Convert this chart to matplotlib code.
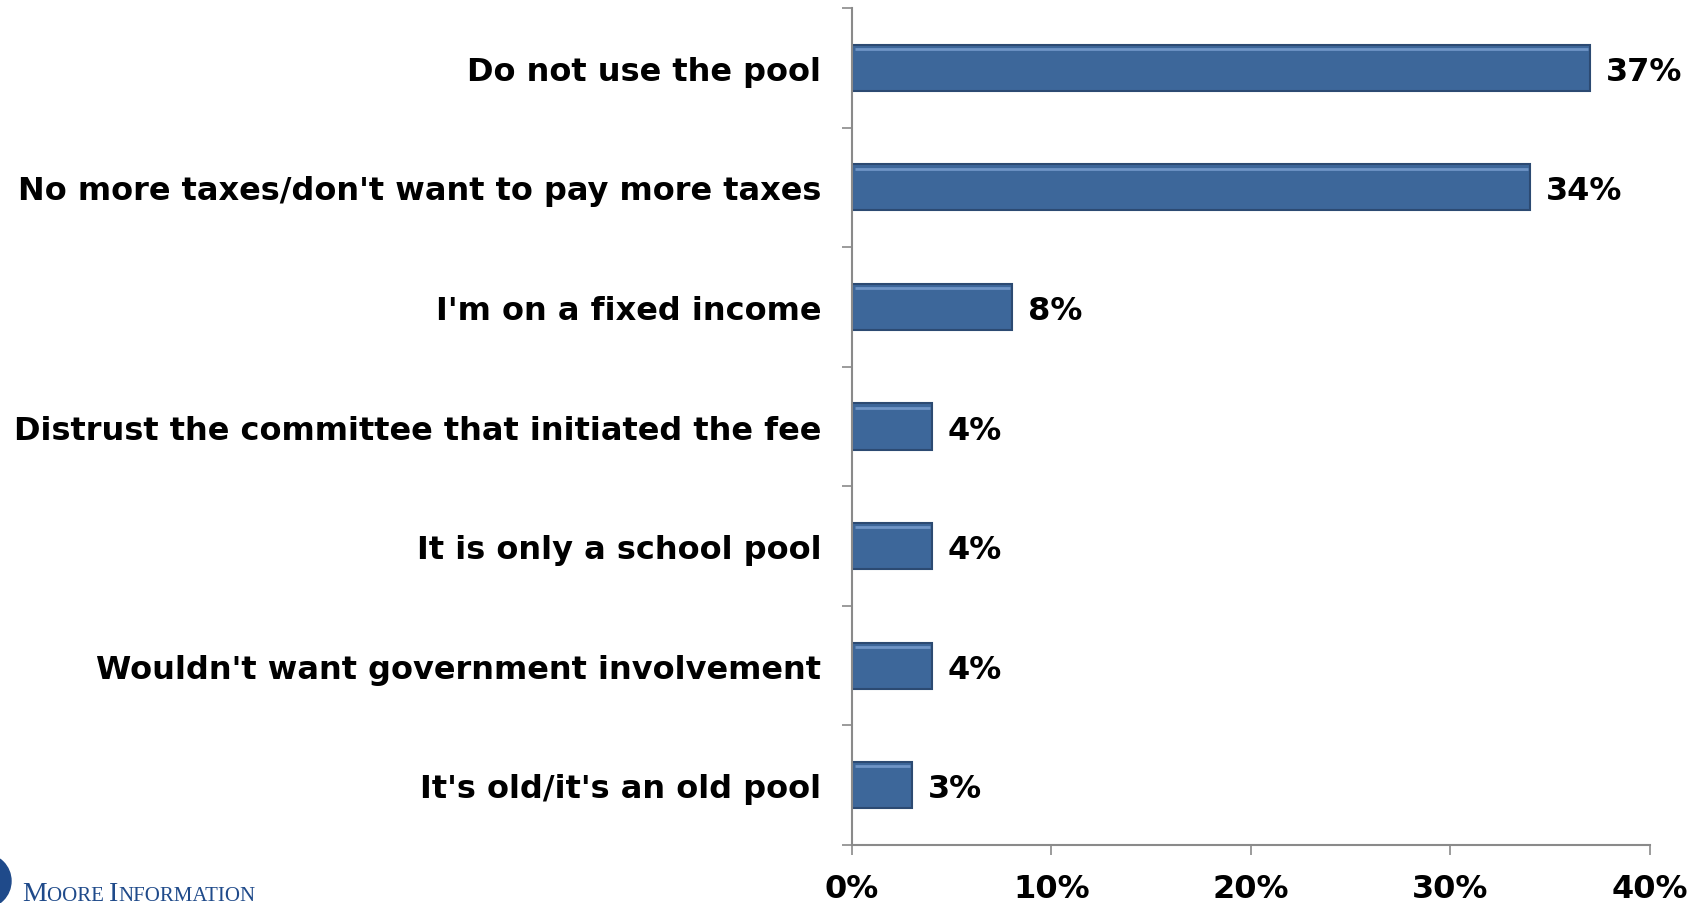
import matplotlib.pyplot as plt
from matplotlib.patches import Ellipse

categories = [
    "Do not use the pool",
    "No more taxes/don't want to pay more taxes",
    "I'm on a fixed income",
    "Distrust the committee that initiated the fee",
    "It is only a school pool",
    "Wouldn't want government involvement",
    "It's old/it's an old pool",
]
values = [37, 34, 8, 4, 4, 4, 3]
x_ticks = [0, 10, 20, 30, 40]
x_tick_labels = ['0%', '10%', '20%', '30%', '40%']

bar_color = '#3d679a'
edge_color = '#2c4a72'
axis_color = '#8a8a8a'
logo_color = '#1f4a8a'
fs = 23

fig = plt.figure(figsize=(17.07, 9.04), dpi=100)
ax = fig.add_axes([0.4991, 0.0642, 0.4675, 0.9258])

pos = list(range(len(categories)))
bars = ax.barh(pos, values, height=0.385, color=bar_color,
               edgecolor=edge_color, linewidth=1.5)
# light bevel along the top edge of each bar
for b in bars:
    ax.plot([b.get_x() + 0.15, b.get_x() + b.get_width() - 0.1],
            [b.get_y() + 0.035, b.get_y() + 0.035],
            color='#6f95c6', linewidth=2, solid_capstyle='butt')

for p, v in zip(pos, values):
    ax.text(v + 0.8, p, f'{v}%', va='center_baseline', ha='left',
            fontsize=fs, fontweight='bold', color='black')

ax.set_xlim(0, 40)
ax.set_ylim(len(categories) - 0.5, -0.5)
ax.set_xticks(x_ticks)
ax.set_xticklabels(x_tick_labels, fontsize=fs, fontweight='bold')
ax.set_yticks(pos)
ax.set_yticklabels(categories, fontsize=fs, fontweight='bold')
ax.set_yticks([i - 0.5 for i in range(len(categories) + 1)], minor=True)

ax.tick_params(axis='y', which='major', length=0, pad=22)
ax.tick_params(axis='y', which='minor', length=7, width=1.2, color=axis_color)
ax.tick_params(axis='x', length=7, width=1.2, color=axis_color, pad=13)

for s in ['top', 'right']:
    ax.spines[s].set_visible(False)
for s in ['left', 'bottom']:
    ax.spines[s].set_color(axis_color)
    ax.spines[s].set_linewidth(1.5)

# logo fragment at bottom left (small caps done by hand)
W, H = 1707, 904
fig.patches.append(Ellipse((-16 / W, 22 / H), 54 / W, 54 / H,
                           transform=fig.transFigure, color=logo_color, zorder=5))
renderer = fig.canvas.get_renderer()
x = 22
for part, size in [('M', 20), ('OORE ', 15), ('I', 20), ('NFORMATION', 15)]:
    t = fig.text(x / W, 3 / H, part, fontsize=size, family='Liberation Serif',
                 color=logo_color, va='baseline')
    x += t.get_window_extent(renderer).width

fig.savefig('out.png', dpi=100)
